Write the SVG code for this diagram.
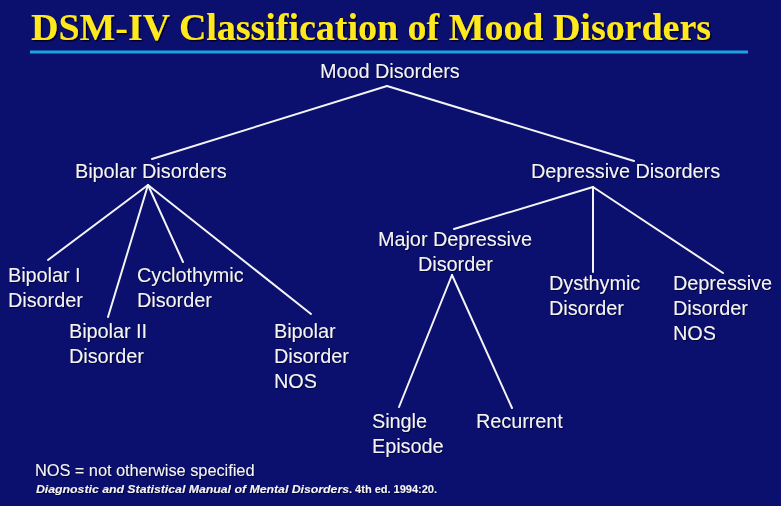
<svg xmlns="http://www.w3.org/2000/svg" width="781" height="506" viewBox="0 0 781 506">
<defs>
<style>
.bg{fill:#0b0f6e}
.title{font-family:"Liberation Serif","Times New Roman",serif;font-weight:bold;font-size:37px;fill:#ffe81a}
.lbl{font-family:"Liberation Sans",Arial,sans-serif;font-size:19.8px;fill:#f4f4f4}
.foot{font-family:"Liberation Sans",Arial,sans-serif;font-size:16.3px;fill:#f4f4f4}
.cite{font-family:"Liberation Sans",Arial,sans-serif;font-size:11px;fill:#f4f4f4;font-weight:bold}
.edge{stroke:#f4f4f4;stroke-width:2;fill:none;stroke-linecap:round}
</style>
<filter id="sh" x="-5%" y="-20%" width="110%" height="150%">
<feDropShadow dx="1.5" dy="1.5" stdDeviation="0.6" flood-color="#000022" flood-opacity="0.9"/>
</filter>
<filter id="sh2" x="-5%" y="-20%" width="110%" height="150%">
<feDropShadow dx="1" dy="1" stdDeviation="0.5" flood-color="#000020" flood-opacity="0.7"/>
</filter>
</defs>
<rect class="bg" x="0" y="0" width="781" height="506"/>
<g id="title">
<text class="title" x="31" y="40" textLength="680" lengthAdjust="spacingAndGlyphs" filter="url(#sh)">DSM-IV Classification of Mood Disorders</text>
<line x1="30" y1="52" x2="748" y2="52" stroke="#1ea2e2" stroke-width="3"/>
</g>
<g id="connectors" class="edge">
<line x1="387" y1="86" x2="152" y2="159"/>
<line x1="387" y1="86" x2="634" y2="161"/>
<line x1="148" y1="185" x2="48" y2="260"/>
<line x1="148" y1="185" x2="108" y2="317"/>
<line x1="148" y1="185" x2="183" y2="262"/>
<line x1="148" y1="185" x2="311" y2="314"/>
<line x1="593" y1="187" x2="454" y2="229"/>
<line x1="593" y1="187" x2="593" y2="272"/>
<line x1="593" y1="187" x2="723" y2="273"/>
<line x1="452" y1="275" x2="399" y2="407"/>
<line x1="452" y1="275" x2="512" y2="408"/>
</g>
<g filter="url(#sh2)">
<g id="mood"><text class="lbl" x="320" y="78">Mood Disorders</text></g>
<g id="bipolar"><text class="lbl" x="75" y="178">Bipolar Disorders</text></g>
<g id="depressive"><text class="lbl" x="531" y="178">Depressive Disorders</text></g>
<g id="bipolar1"><text class="lbl" x="8" y="282">Bipolar I</text><text class="lbl" x="8" y="307">Disorder</text></g>
<g id="bipolar2"><text class="lbl" x="69" y="338">Bipolar II</text><text class="lbl" x="69" y="363">Disorder</text></g>
<g id="cyclothymic"><text class="lbl" x="137" y="282">Cyclothymic</text><text class="lbl" x="137" y="307">Disorder</text></g>
<g id="bipolarnos"><text class="lbl" x="274" y="338">Bipolar</text><text class="lbl" x="274" y="363">Disorder</text><text class="lbl" x="274" y="388">NOS</text></g>
<g id="major"><text class="lbl" x="378" y="246">Major Depressive</text><text class="lbl" x="418" y="271">Disorder</text></g>
<g id="dysthymic"><text class="lbl" x="549" y="290">Dysthymic</text><text class="lbl" x="549" y="315">Disorder</text></g>
<g id="depnos"><text class="lbl" x="673" y="290">Depressive</text><text class="lbl" x="673" y="315">Disorder</text><text class="lbl" x="673" y="340">NOS</text></g>
<g id="single"><text class="lbl" x="372" y="428">Single</text><text class="lbl" x="372" y="453">Episode</text></g>
<g id="recurrent"><text class="lbl" x="476" y="428">Recurrent</text></g>
<g id="footer">
<text class="foot" x="35" y="476">NOS = not otherwise specified</text>
<text class="cite" x="36" y="493"><tspan font-style="italic" textLength="313" lengthAdjust="spacingAndGlyphs">Diagnostic and Statistical Manual of Mental Disorders</tspan><tspan>. 4th ed. 1994:20.</tspan></text>
</g>
</g>
</svg>
